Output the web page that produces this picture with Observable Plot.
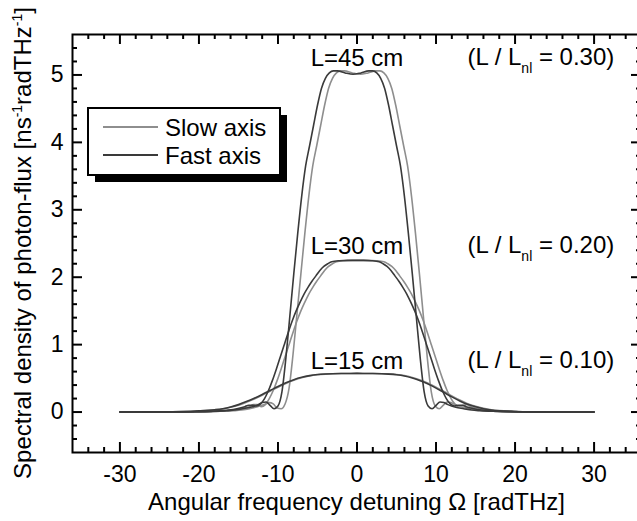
<!DOCTYPE html>
<html>
<head>
<meta charset="utf-8">
<script src="https://cdn.jsdelivr.net/npm/d3@7"></script>
<script src="https://cdn.jsdelivr.net/npm/@observablehq/plot@0.6"></script>
<style>
  html, body { margin: 0; padding: 0; background: white; overflow: hidden; }
</style>
</head>
<body>
<div id="chart"></div>
<script>
// ---------- data ----------
// L = 45 cm, fast axis
const fast45X = [-30,-24.5,-20.5,-18.5,-16.5,-15.5,-14.5,-13.5,-12.5,-12,-11.5,-11,-10.5,-10,-9.5,-9,-8.5,-8,-7.5,-7,-6.5,-6,-5.5,-5,-4.5,-4,-3.5,-3,-2.5,-1.5,-0.5,0.5,1.5,2,2.5,3,3.5,4,4.5,5,5.5,6,6.5,7,7.5,8,8.5,9,9.5,10,10.5,11,11.5,12.5,13.5,14.5,15.5,17.5,19.5,23.5,30];
const fast45Y = [0,0,0.005,0.01,0.02,0.03,0.05,0.07,0.11,0.14,0.15,0.1,0.05,0.09,0.3,0.8,1.42,2.05,2.65,3.2,3.65,3.95,4.25,4.55,4.8,4.95,5.03,5.06,5.06,5.03,5.01,5.03,5.06,5.06,5.03,4.95,4.8,4.55,4.25,3.95,3.65,3.2,2.65,2.05,1.42,0.8,0.3,0.09,0.05,0.1,0.15,0.14,0.11,0.07,0.05,0.03,0.02,0.01,0.005,0,0];
// L = 45 cm, slow axis
const slow45X = [-30,-23.6,-19.6,-17.6,-15.6,-14.6,-13.6,-12.6,-11.6,-11.1,-10.6,-10.1,-9.6,-9.1,-8.6,-8.1,-7.6,-7.1,-6.6,-6.1,-5.6,-5.1,-4.6,-4.1,-3.6,-3.1,-2.6,-2.1,-1.6,-0.6,0.4,1.4,2.4,2.9,3.4,3.9,4.4,4.9,5.4,5.9,6.4,6.9,7.4,7.9,8.4,8.9,9.4,9.9,10.4,10.9,11.4,11.9,12.4,13.4,14.4,15.4,16.4,18.4,20.4,24.4,30];
const slow45Y = [0,0,0.005,0.01,0.02,0.03,0.05,0.08,0.12,0.14,0.12,0.06,0.05,0.12,0.35,0.85,1.45,2.05,2.65,3.2,3.65,3.95,4.25,4.55,4.8,4.95,5.03,5.06,5.06,5.03,5.01,5.03,5.06,5.06,5.03,4.95,4.8,4.55,4.25,3.95,3.65,3.2,2.65,2.05,1.42,0.8,0.3,0.09,0.05,0.1,0.15,0.14,0.11,0.07,0.05,0.03,0.02,0.01,0.005,0,0];
// L = 30 cm, fast axis
const fast30X = [-30,-24.2,-20.2,-18.2,-16.2,-15.2,-14.2,-13.7,-13.2,-12.7,-12.2,-11.7,-11.2,-10.7,-10.2,-9.7,-9.2,-8.7,-8.2,-7.7,-7.2,-6.7,-6.2,-5.7,-5.2,-4.7,-4.2,-3.7,-3.2,-2.2,-1.2,-0.2,0.8,1.8,2.8,3.3,3.8,4.3,4.8,5.3,5.8,6.3,6.8,7.3,7.8,8.3,8.8,9.3,9.8,10.3,10.8,11.3,11.8,12.3,12.8,13.3,13.8,14.8,15.8,17.8,19.8,23.8,30];
const fast30Y = [0,0,0.005,0.012,0.03,0.05,0.08,0.1,0.1,0.09,0.12,0.2,0.32,0.47,0.64,0.82,1.0,1.18,1.35,1.5,1.63,1.75,1.85,1.94,2.02,2.1,2.16,2.2,2.23,2.245,2.25,2.25,2.25,2.245,2.23,2.2,2.16,2.1,2.02,1.94,1.85,1.75,1.63,1.5,1.35,1.18,1.0,0.82,0.64,0.47,0.32,0.2,0.12,0.09,0.1,0.1,0.08,0.05,0.03,0.012,0.005,0,0];
// L = 30 cm, slow axis
const slow30X = [-30,-23.6,-19.6,-17.6,-15.6,-14.6,-13.6,-13.1,-12.6,-12.1,-11.6,-11.1,-10.6,-10.1,-9.6,-9.1,-8.6,-8.1,-7.6,-7.1,-6.6,-6.1,-5.6,-5.1,-4.6,-4.1,-3.6,-3.1,-2.6,-1.6,-0.6,0.4,1.4,2.4,3.4,3.9,4.4,4.9,5.4,5.9,6.4,6.9,7.4,7.9,8.4,8.9,9.4,9.9,10.4,10.9,11.4,11.9,12.4,12.9,13.4,13.9,14.4,15.4,16.4,18.4,20.4,24.4,30];
const slow30Y = [0,0,0.005,0.012,0.03,0.05,0.08,0.11,0.11,0.08,0.11,0.2,0.32,0.47,0.64,0.82,1.0,1.18,1.35,1.5,1.63,1.75,1.85,1.94,2.02,2.1,2.16,2.2,2.23,2.245,2.25,2.25,2.25,2.245,2.23,2.2,2.16,2.1,2.02,1.94,1.85,1.75,1.63,1.5,1.35,1.18,1.0,0.82,0.64,0.47,0.32,0.2,0.12,0.08,0.1,0.11,0.08,0.05,0.03,0.012,0.005,0,0];
// L = 15 cm, both axes
const l15X = [-30,-26,-22,-20,-18,-17,-16,-15,-14,-13,-12,-11,-10,-9,-8,-7,-6,-5,-4,-2,0,2,4,5,6,7,8,9,10,11,12,13,14,15,16,17,18,20,22,26,30];
const fast15Y = [0,0.002,0.008,0.018,0.035,0.05,0.075,0.11,0.155,0.205,0.26,0.32,0.38,0.435,0.48,0.515,0.54,0.556,0.565,0.572,0.573,0.571,0.563,0.553,0.535,0.505,0.465,0.415,0.355,0.29,0.225,0.165,0.115,0.078,0.05,0.03,0.018,0.008,0.003,0,0];
const slow15Y = [0,0.002,0.007,0.016,0.032,0.046,0.07,0.102,0.145,0.193,0.248,0.308,0.368,0.425,0.472,0.51,0.536,0.553,0.563,0.571,0.573,0.572,0.566,0.557,0.541,0.513,0.476,0.428,0.37,0.305,0.24,0.178,0.125,0.086,0.056,0.034,0.021,0.009,0.003,0,0];

// tick values
const xMajor = [-30,-20,-10,0,10,20,30];
const xMinor = [-34,-32,-28,-26,-24,-22,-18,-16,-14,-12,-8,-6,-4,-2,2,4,6,8,12,14,16,18,22,24,26,28,32,34];
const yMajor = [0,1,2,3,4,5];
const yMinor = [-0.4,-0.2,0.2,0.4,0.6,0.8,1.2,1.4,1.6,1.8,2.2,2.4,2.6,2.8,3.2,3.4,3.6,3.8,4.2,4.4,4.6,4.8,5.2,5.4];

// annotations
const lengthLabels = ["L=45 cm","L=30 cm","L=15 cm"];
const ratioValues = ["0.30","0.20","0.10"];
const labelY = [5.25, 2.465, 0.755];
const legendNames = ["Slow axis","Fast axis"];

const SLOW = "#8e8e8e", FAST = "#3a3a3a";
const FONT = "'Liberation Sans', Arial, Helvetica, sans-serif";

// ---------- layout ----------
const W = 641, H = 521, mL = 72, mR = 0, mT = 34, mB = 69;
const innerW = W - mL - mR, innerH = H - mT - mB;

const line = (X, Y, color) => Plot.line(Y, {x: X, y: Y, stroke: color, strokeWidth: 1.6, curve: "monotone-x"});

const plot = Plot.plot({
  width: W, height: H,
  marginLeft: mL, marginRight: mR, marginTop: mT, marginBottom: mB,
  x: {domain: [-36, 36]},
  y: {domain: [-0.6, 5.6]},
  style: {fontFamily: FONT, fontSize: "23px", color: "black", background: "white"},
  marks: [
    line(l15X, slow15Y, SLOW),
    line(slow30X, slow30Y, SLOW),
    line(slow45X, slow45Y, SLOW),
    line(l15X, fast15Y, FAST),
    line(fast30X, fast30Y, FAST),
    line(fast45X, fast45Y, FAST),
    Plot.frame({stroke: "black", strokeWidth: 2}),
    // inward ticks on all four sides
    Plot.tickX(xMajor, {x: d => d, insetTop: innerH - 10, stroke: "black", strokeWidth: 2}),
    Plot.tickX(xMinor, {x: d => d, insetTop: innerH - 5, stroke: "black", strokeWidth: 2}),
    Plot.tickX(xMajor, {x: d => d, insetBottom: innerH - 10, stroke: "black", strokeWidth: 2}),
    Plot.tickX(xMinor, {x: d => d, insetBottom: innerH - 5, stroke: "black", strokeWidth: 2}),
    Plot.tickY(yMajor, {y: d => d, insetRight: innerW - 10, stroke: "black", strokeWidth: 2}),
    Plot.tickY(yMinor, {y: d => d, insetRight: innerW - 5, stroke: "black", strokeWidth: 2}),
    Plot.tickY(yMajor, {y: d => d, insetLeft: innerW - 10, stroke: "black", strokeWidth: 2}),
    Plot.tickY(yMinor, {y: d => d, insetLeft: innerW - 5, stroke: "black", strokeWidth: 2}),
    Plot.axisX(xMajor, {anchor: "bottom", tickSize: 0, tickPadding: 13, tickFormat: d => String(d), label: null, fontSize: 23}),
    Plot.axisY(yMajor, {anchor: "left", tickSize: 0, tickPadding: 9, tickFormat: d => String(d), label: null, fontSize: 23}),
    Plot.text(lengthLabels, {x: 0, y: (d, i) => labelY[i], text: d => d, fontSize: 24, fill: "black"})
  ]
});

// crop to the 637-wide window (right frame edge lies just outside the picture)
plot.setAttribute("width", 637);
plot.setAttribute("viewBox", "0 0 637 521");
plot.style.maxWidth = "none";
document.getElementById("chart").appendChild(plot);

const xs = plot.scale("x"), ys = plot.scale("y");
const svg = d3.select(plot);
const g = svg.append("g").attr("font-family", FONT).attr("fill", "black");

// ratio annotations with subscript
ratioValues.forEach((v, i) => {
  const t = g.append("text")
    .attr("x", xs.apply(14.05))
    .attr("y", ys.apply(labelY[i]) + 7.7)
    .attr("text-anchor", "start")
    .attr("font-size", 24);
  t.append("tspan").text("(L / L");
  t.append("tspan").attr("font-size", 14).attr("dy", 8).text("nl");
  t.append("tspan").attr("dy", -8).text(" = " + v + ")");
});

// x title
g.append("text")
  .attr("x", (xs.apply(-36) + xs.apply(36)) / 2)
  .attr("y", 510)
  .attr("text-anchor", "middle")
  .attr("font-size", 24)
  .text("Angular frequency detuning \u03A9 [radTHz]");

// y title with superscripts
const yt = g.append("text")
  .attr("transform", `translate(31, ${(mT + H - mB) / 2}) rotate(-90)`)
  .attr("text-anchor", "middle")
  .attr("font-size", 24);
yt.append("tspan").text("Spectral density of photon-flux [ns");
yt.append("tspan").attr("font-size", 14).attr("dy", -9).text("-1");
yt.append("tspan").attr("dy", 9).text("radTHz");
yt.append("tspan").attr("font-size", 14).attr("dy", -9).text("-1");
yt.append("tspan").attr("dy", 9).text("]");

// legend box with drop shadow
const lg = svg.append("g");
lg.append("rect").attr("x", 95).attr("y", 115).attr("width", 192).attr("height", 67).attr("fill", "black");
lg.append("rect").attr("x", 88).attr("y", 108).attr("width", 192).attr("height", 67)
  .attr("fill", "white").attr("stroke", "black").attr("stroke-width", 2);
[SLOW, FAST].forEach((c, i) => {
  const yy = 127 + i * 28;
  lg.append("line").attr("x1", 103).attr("x2", 158).attr("y1", yy).attr("y2", yy)
    .attr("stroke", c).attr("stroke-width", 1.8);
  lg.append("text").attr("x", 165).attr("y", yy + 8.5)
    .attr("text-anchor", "start")
    .attr("font-family", FONT).attr("font-size", 24).attr("fill", "black")
    .text(legendNames[i]);
});
</script>
</body>
</html>
